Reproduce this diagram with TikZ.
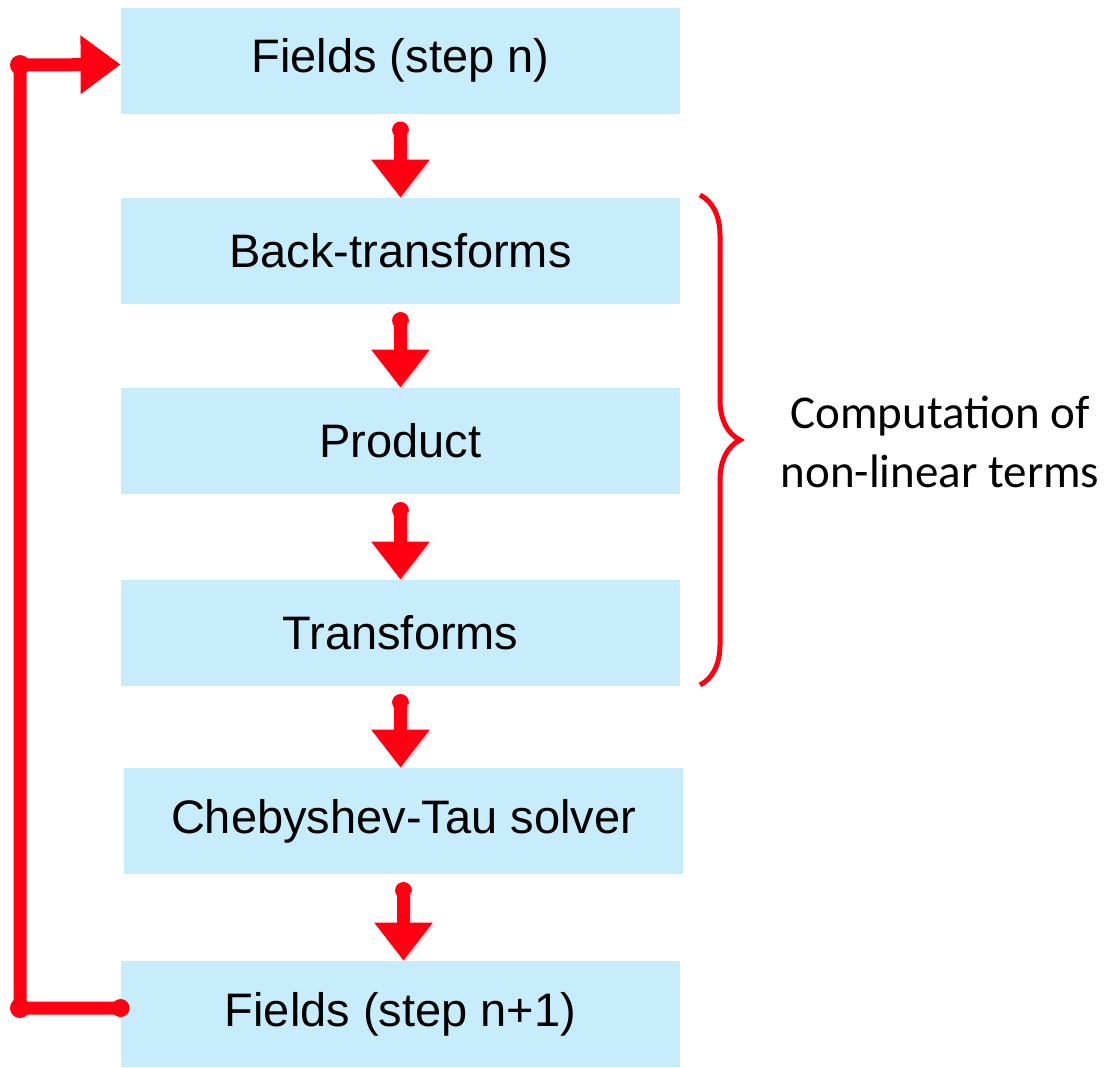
\documentclass[tikz,border=0pt]{standalone}
\usepackage{fontspec}
\setmainfont{Liberation Sans}
\newfontfamily\carlitofont{Carlito}
\usetikzlibrary{arrows.meta,decorations.pathreplacing}
\definecolor{boxblue}{RGB}{199,237,252}
\definecolor{flowred}{RGB}{255,0,18}
\tikzset{
  box/.style={fill=boxblue, draw=none, minimum width=279.5pt, minimum height=53pt, inner sep=0pt,
    font=\fontsize{23.5pt}{28pt}\selectfont},
  flow/.style={draw=flowred, line width=6.5pt, line cap=round,
    -{Triangle[width=28pt,length=19pt]}, color=flowred,
    preaction={draw=black!25, opacity=0.5, line width=6.5pt, transform canvas={shift={(1pt,-1pt)}}}},
  loopline/.style={draw=flowred, line width=6.5pt, line cap=round, line join=round,
    -{Triangle[width=28pt,length=20pt]}, color=flowred},
  bracestyle/.style={draw=flowred, line width=2.5pt, decorate,
    decoration={brace, amplitude=20pt, aspect=0.5}},
}
\begin{document}
\begin{tikzpicture}[x=0.5pt,y=-0.5pt]
\useasboundingbox (0,0) rectangle (1112,1067);
\node[box] (f1) at (400.5,60.5) {Fields (step n)};
\node[box] (f2) at (400.5,251) {Back-transforms};
\node[box] (f3) at (400.5,441) {Product};
\node[box] (f4) at (400.5,633) {Transforms};
\node[box] (f5) at (403.5,821) {Chebyshev-Tau solver};
\node[box] (f6) at (400.5,1014) {Fields (step n+1)};
\foreach \a/\b in {f1/f2,f2/f3,f3/f4,f4/f5,f5/f6}{
  \fill[flowred] ([yshift=-8pt]\a.south) circle (4.2pt);
  \draw[flow] ([yshift=-8pt]\a.south) -- (\a.south |- \b.north);
}
\coordinate (lb) at (20,1008);
\coordinate (lt) at (20,65);
\fill[flowred] ([yshift=3pt]f6.west) circle (4.5pt);
\fill[flowred] (lb) circle (5pt);
\fill[flowred] (lt) circle (5pt);
\draw[loopline] ([yshift=3pt]f6.west) -- (lb) -- (lt) -- ([yshift=-2pt]f1.west);
\coordinate (bt) at (700,195);
\coordinate (bb) at (700,685);
\draw[bracestyle] (bt) -- (bb);
\node[font=\carlitofont\fontsize{23.5pt}{29.5pt}\selectfont, align=center] (lbl) at (940,442) {Computation of\\non-linear terms};
\end{tikzpicture}
\end{document}
